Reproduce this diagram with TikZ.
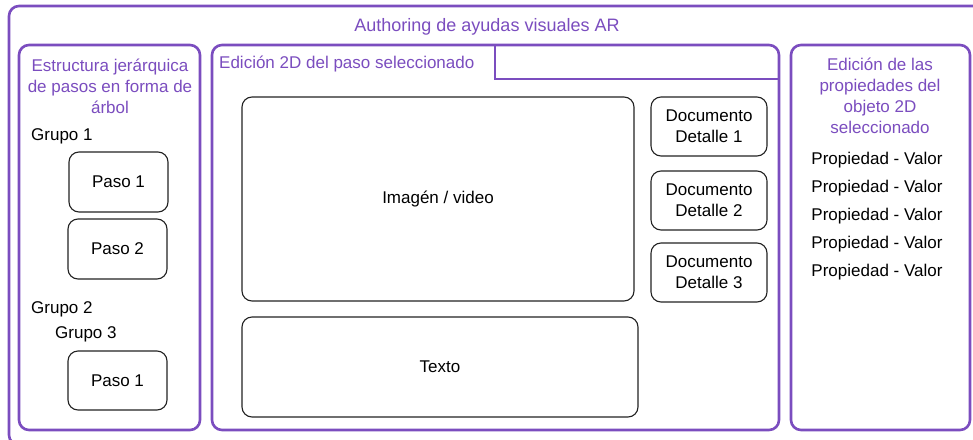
\documentclass[tikz,border=0pt]{standalone}
\usepackage{fontspec}
\setmainfont{Liberation Sans}
\definecolor{purp}{HTML}{7B4DBF}
\definecolor{boxline}{HTML}{222222}
\begin{document}
\begin{tikzpicture}[x=1pt,y=-1pt,
  txt/.style={font=\fontsize{17}{21}\selectfont, inner sep=0pt},
  ftxt/.style={txt, yshift=-2pt},
  ptxt/.style={ftxt, text=purp, align=center},
  panel/.style={draw=purp, line width=2.6pt, rounded corners=10pt, minimum width=#1, inner sep=0pt},
  wbox/.style={draw=boxline, line width=1.1pt, rounded corners=10pt, txt, align=center}
]
\useasboundingbox (0,0) rectangle (973,439);
\clip (0,0) rectangle (973,439);
\fill[white] (0,0) rectangle (973,439);

% outer frame
\node[panel=976pt, minimum height=439pt] (outer) at (497,225.5) {};
\node[ptxt, font=\fontsize{18}{21}\selectfont] (title) at (487,25) {Authoring de ayudas visuales AR};

% panels
\node[panel=181pt, minimum height=385pt] (left) at (109.5,237.5) {};
\node[panel=567pt, minimum height=385pt] (mid) at (495.5,237.5) {};
\node[panel=179pt, minimum height=385pt] (right) at (880.5,237.5) {};

% tab in middle panel
\coordinate (tabtop) at (495,45);
\coordinate (tabcorner) at (495,79);
\coordinate (tabend) at (779,79);
\draw[draw=purp, line width=2.6pt] (tabtop) -- (tabcorner) -- (tabend);

% left panel content
\node[ptxt] (lefttitle) at (110,84) {Estructura jerárquica\\de pasos en forma de\\árbol};
\node[ftxt, anchor=west] (g1) at (31,134) {Grupo 1};
\node[wbox, minimum width=99pt, minimum height=60pt] (p1) at (118.5,182) {Paso 1};
\node[wbox, minimum width=99pt, minimum height=60pt] (p2) at (117.5,249) {Paso 2};
\node[ftxt, anchor=west] (g2) at (31,307) {Grupo 2};
\node[ftxt, anchor=west] (g3) at (55,332) {Grupo 3};
\node[wbox, minimum width=99pt, minimum height=59pt] (p3) at (117.5,380.5) {Paso 1};

% middle panel content
\node[ptxt, anchor=west] (midtitle) at (219,62) {Edición 2D del paso seleccionado};
\node[wbox, minimum width=392pt, minimum height=204pt] (img) at (438,199) {Imagén / video};
\node[wbox, minimum width=396pt, minimum height=100pt] (texto) at (440,367) {Texto};
\node[wbox, minimum width=116pt, minimum height=59pt] (d1) at (709,126.5) {Documento\\Detalle 1};
\node[wbox, minimum width=116pt, minimum height=59pt] (d2) at (709,200.5) {Documento\\Detalle 2};
\node[wbox, minimum width=116pt, minimum height=59pt] (d3) at (709,272.5) {Documento\\Detalle 3};

% right panel content
\node[ptxt] (righttitle) at (880,94) {Edición de las\\propiedades del\\objeto 2D\\seleccionado};
\foreach \i/\yy in {1/158,2/186,3/214,4/242,5/270}{
  \node[ftxt] (prop\i) at (877,\yy) {Propiedad - Valor};
}
\end{tikzpicture}
\end{document}
